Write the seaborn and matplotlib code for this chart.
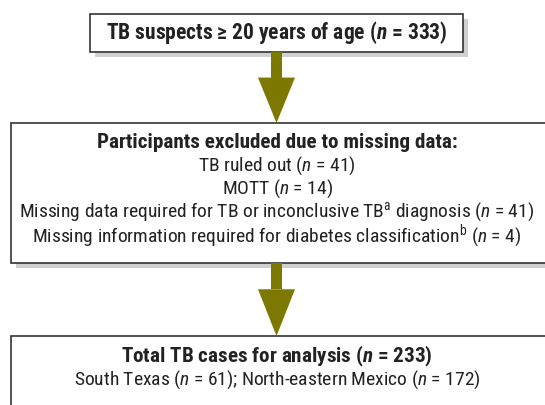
import matplotlib
matplotlib.use("Agg")
import matplotlib.pyplot as plt
from matplotlib.patches import Rectangle, Polygon
import seaborn as sns

# flowchart text, top to bottom
box1_lines = [r"TB suspects ≥ 20 years of age ($\mathbfit{n}$ = 333)"]
box2_lines = [
    "Participants excluded due to missing data:",
    r"TB ruled out ($\mathit{n}$ = 41)",
    r"MOTT ($\mathit{n}$ = 14)",
    r"Missing data required for TB or inconclusive TB$^{\mathrm{a}}$ diagnosis ($\mathit{n}$ = 41)",
    r"Missing information required for diabetes classification$^{\mathrm{b}}$ ($\mathit{n}$ = 4)",
]
box3_lines = [
    r"Total TB cases for analysis ($\mathbfit{n}$ = 233)",
    r"South Texas ($\mathit{n}$ = 61); North-eastern Mexico ($\mathit{n}$ = 172)",
]

sns.set_theme(style="white")
font = "Roboto Condensed"
plt.rcParams["font.family"] = [font, "DejaVu Sans"]
plt.rcParams["mathtext.fontset"] = "custom"
plt.rcParams["mathtext.rm"] = font
plt.rcParams["mathtext.it"] = font + ":italic"
plt.rcParams["mathtext.bf"] = font + ":bold"
plt.rcParams["mathtext.bfit"] = font + ":italic:bold"

fig = plt.figure(figsize=(5.45, 4.05), dpi=100)
ax = fig.add_axes([0, 0, 1, 1])
ax.set_xlim(0, 545)
ax.set_ylim(405, 0)
ax.axis("off")

edge = "#333333"
shadow = "#d0d0d0"
olive = "#7d7800"
ink = "#222222"
bold_size, reg_size = 15.2, 14


def box(x0, y0, x1, y1, shade=True):
    if shade:
        ax.add_patch(Rectangle((x0 + 5, y0 + 5), x1 - x0, y1 - y0, color=shadow, lw=0, zorder=1))
    ax.add_patch(Rectangle((x0, y0), x1 - x0, y1 - y0, facecolor="white", edgecolor=edge, lw=1.2, zorder=2))


def arrow(y0, y1):
    xc = 276.5
    ys = y0 + 0.36 * (y1 - y0)
    ax.add_patch(Rectangle((xc - 5.5, y0), 11, ys - y0, color=olive, lw=0, zorder=3))
    ax.add_patch(Polygon([(xc - 18.5, ys), (xc + 18.5, ys), (xc, y1)], closed=True, color=olive, lw=0, zorder=3))


box(90, 14, 463, 52)
box(11, 123, 560, 263)
box(11, 336, 560, 430, shade=False)
arrow(52, 123)
arrow(263, 336)

ax.text(277, 33, box1_lines[0], ha="center", va="center", fontsize=15.5, fontweight="bold", color=ink, zorder=4)

ys2 = [143, 166, 189, 212, 236]
for i, (t, y) in enumerate(zip(box2_lines, ys2)):
    ax.text(277, y, t, ha="center", va="center", fontsize=bold_size if i == 0 else reg_size,
            fontweight="bold" if i == 0 else "normal", color=ink, zorder=4)

ys3 = [356, 380]
for i, (t, y) in enumerate(zip(box3_lines, ys3)):
    ax.text(277, y, t, ha="center", va="center", fontsize=bold_size if i == 0 else reg_size,
            fontweight="bold" if i == 0 else "normal", color=ink, zorder=4)

fig.savefig("out.png", dpi=100)
